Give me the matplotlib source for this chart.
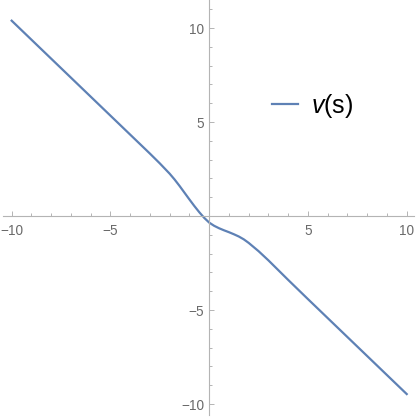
import numpy as np
import matplotlib
matplotlib.use("Agg")
import matplotlib.pyplot as plt

plt.rcParams['font.family'] = ['Liberation Sans', 'DejaVu Sans']
plt.rcParams['mathtext.fontset'] = 'custom'
plt.rcParams['mathtext.it'] = 'Liberation Sans:italic'
plt.rcParams['mathtext.rm'] = 'Liberation Sans'

# values
s_vals = [-10, -8, -6, -4, -3, -2.5, -2, -1.75, -1.5, -1.25, -1, -0.75, -0.5,
          -0.25, 0, 0.25, 0.5, 0.75, 1, 1.25, 1.5, 1.75, 2, 2.5, 3, 3.5, 4,
          5, 6, 7, 8, 10]
v_vals = [10.39, 8.37, 6.35, 4.33, 3.32, 2.80, 2.25, 1.94, 1.60, 1.24, 0.88,
          0.53, 0.20, -0.10, -0.35, -0.52, -0.65, -0.76, -0.86, -0.97, -1.09,
          -1.24, -1.43, -1.87, -2.36, -2.88, -3.40, -4.42, -5.43, -6.44,
          -7.45, -9.47]
major_ticks = [-10, -5, 5, 10]
minor_ticks = [t for t in range(-10, 11) if t % 5 != 0]
y_minor = [t for t in range(-10, 12) if t % 5 != 0]

axis_col = '#b4b4b4'
label_col = '#6a6a6a'

fig = plt.figure(figsize=(4.17, 4.17), dpi=100)
ax = fig.add_axes([0, 0, 1, 1])
ax.patch.set_alpha(0)

line, = ax.plot(s_vals, v_vals, color='#5E81B5', lw=1.6, label=r'$v$(s)',
                solid_joinstyle='round')

ax.set_xlim(-10.59, 10.52)
ax.set_ylim(-10.69, 11.49)

for side in ['top', 'right']:
    ax.spines[side].set_visible(False)
ax.spines['left'].set_position(('data', 0))
ax.spines['bottom'].set_position(('data', 0))
ax.spines['left'].set_bounds(-10.6, 11.5)
ax.spines['bottom'].set_bounds(-10.43, 10.37)
for side in ['left', 'bottom']:
    ax.spines[side].set_color(axis_col)
    ax.spines[side].set_linewidth(0.8)

ax.set_xticks(major_ticks)
ax.set_xticks(minor_ticks, minor=True)
ax.set_yticks(major_ticks)
ax.set_yticks(y_minor, minor=True)
ax.set_xticklabels(['\u221210', '\u22125', '5', '10'])
ax.set_yticklabels(['\u221210', '\u22125', '5', '10'])

ax.tick_params(which='both', direction='in', color=axis_col, width=0.7,
               labelcolor=label_col, labelsize=9.8)
ax.tick_params(which='major', length=3.3)
ax.tick_params(which='minor', length=2.0)
ax.tick_params(axis='x', which='major', pad=5.5)
ax.tick_params(axis='y', which='major', pad=3.5)

leg = ax.legend(handles=[line], loc='center left',
                bbox_to_anchor=(272 / 417, 1 - 105.5 / 417),
                bbox_transform=fig.transFigure, frameon=False,
                fontsize=18, handlelength=1.05, handletextpad=0.5,
                borderpad=0, borderaxespad=0)

fig.savefig('out.png', dpi=100)
